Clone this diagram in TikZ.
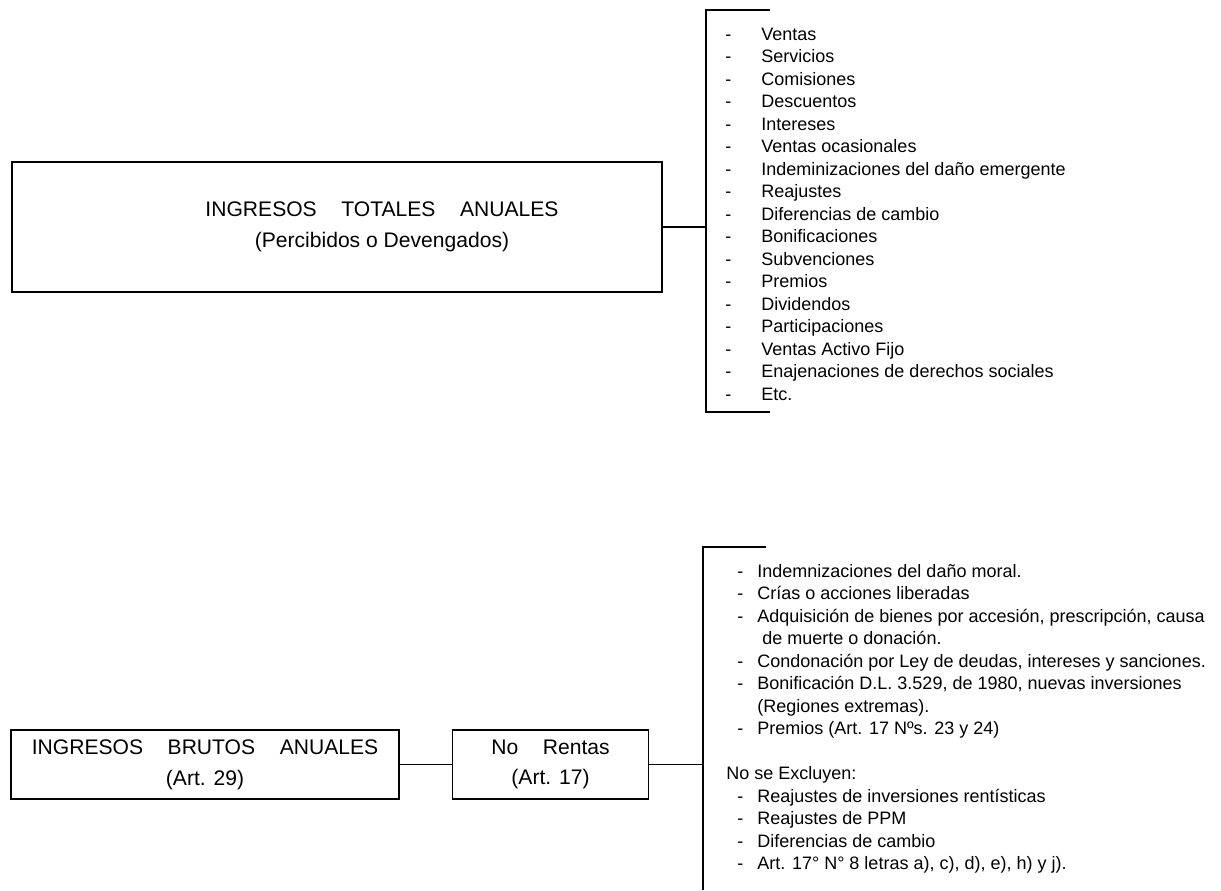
\documentclass[tikz,border=0pt]{standalone}
\usepackage{fontspec}
\setmainfont{Liberation Sans}
\usetikzlibrary{positioning, calc}

\newcommand{\gap}{\hspace{14pt}}

\begin{document}
\begin{tikzpicture}[x=0.02cm, y=-0.02cm,
    box/.style={draw, line width=0.9pt, inner sep=0pt, align=center,
        font=\fontsize{12}{17.5}\selectfont},
    item/.style={anchor=base west, inner sep=0pt, font=\fontsize{10.25}{12}\selectfont},
    link/.style={line width=0.9pt}]
    \useasboundingbox (0,0) rectangle (1221,890);

    % ingresos totales
    \node[box, minimum width=13cm, minimum height=2.6cm] (tot) at (337,227) {};
    \node[box, draw=none] (totlbl) at ($(tot.center)+(45,0)$)
        {INGRESOS\gap TOTALES\gap ANUALES\\(Percibidos o Devengados)};
    \coordinate (b1) at (706,227);
    \draw[link] (770,10) -- (706,10) -- (706,412) -- (770,412);
    \draw[link] (tot.east) -- (b1);

    \foreach \txt [count=\i from 0] in {Ventas, Servicios, Comisiones, Descuentos,
        Intereses, Ventas ocasionales, Indeminizaciones del daño emergente,
        Reajustes, Diferencias de cambio, Bonificaciones, Subvenciones, Premios,
        Dividendos, Participaciones, Ventas Activo Fijo,
        Enajenaciones de derechos sociales, Etc.} {
        \node[item] (dt-\i) at (725,40+22.5*\i) {-};
        \node[item] (it-\i) at (761,40+22.5*\i) {\txt};
    }

    % ingresos brutos
    \node[box, minimum width=7.76cm, minimum height=1.38cm] (bru) at (205,764.5)
        {INGRESOS\gap BRUTOS\gap ANUALES\\(Art. 29)};
    \node[box, minimum width=3.92cm, minimum height=1.38cm, right=1.04cm of bru] (nor)
        {No\gap Rentas\\(Art. 17)};
    \coordinate (b2) at (703,764.5);
    \draw[link] (766,547) -- (703,547) -- (703,890);
    \draw[link] (bru) -- (nor);
    \draw[link] (nor) -- (b2);

    \foreach \n/\txt in {0/{Indemnizaciones del daño moral.},
        1/{Crías o acciones liberadas},
        2/{Adquisición de bienes por accesión, prescripción, causa},
        4/{Condonación por Ley de deudas, intereses y sanciones.},
        5/{Bonificación D.L. 3.529, de 1980, nuevas inversiones},
        7/{Premios (Art. 17 Nºs. 23 y 24)},
        10/{Reajustes de inversiones rentísticas},
        11/{Reajustes de PPM},
        12/{Diferencias de cambio},
        13/{Art. 17° N° 8 letras a), c), d), e), h) y j).}} {
        \node[item] (dr-\n) at (737,577+22.5*\n) {-};
        \node[item] (nr-\n) at (757,577+22.5*\n) {\txt};
    }
    \node[item] (nr-3) at (762,577+22.5*3) {de muerte o donación.};
    \node[item] (nr-6) at (757,577+22.5*6) {(Regiones extremas).};
    \node[item] (nr-9) at (726,577+22.5*9) {No se Excluyen:};
\end{tikzpicture}
\end{document}
